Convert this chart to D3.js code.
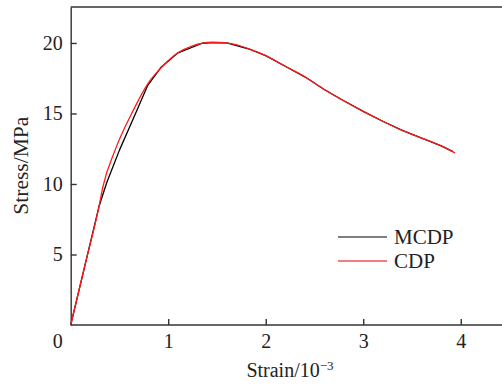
<!DOCTYPE html>
<html>
<head>
<meta charset="utf-8">
<script src="https://cdn.jsdelivr.net/npm/d3@7"></script>
<style>
  body { margin: 0; background: #fff; }
  svg { display: block; font-family: "Liberation Serif", "DejaVu Serif", serif; }
  .axis path, .axis line { stroke: #333; stroke-width: 1.4; }
  .axis text { font-size: 20px; fill: #222; font-family: "Liberation Serif", serif; }
</style>
</head>
<body>
<svg width="502" height="385"></svg>
<script>
"use strict";

//data

const mcdpStrain = [0, 0.29, 0.37, 0.5, 0.665, 0.79, 0.93, 1.1, 1.35, 1.45, 1.6, 1.84, 2.0, 2.2, 2.4, 2.6, 2.8, 3.0, 3.2, 3.4, 3.6, 3.8, 3.92];
const mcdpStress = [0, 8.4, 10.1, 12.4, 15, 17.0, 18.3, 19.3, 19.98, 20.02, 20.0, 19.55, 19.1, 18.35, 17.6, 16.7, 15.9, 15.15, 14.45, 13.8, 13.25, 12.7, 12.3];

const cdpStrain = [0, 0.15, 0.29, 0.33, 0.455, 0.64, 0.79, 0.95, 1.1, 1.25, 1.45, 1.6, 1.84, 2.0, 2.2, 2.4, 2.6, 2.8, 3.0, 3.2, 3.4, 3.6, 3.8, 3.94];
const cdpStress = [0, 4.35, 8.4, 9.8, 12.4, 15.2, 17.1, 18.4, 19.3, 19.8, 20.05, 20.0, 19.55, 19.1, 18.35, 17.6, 16.7, 15.9, 15.15, 14.45, 13.8, 13.25, 12.7, 12.2];

const xTicks = [1, 2, 3, 4];
const yTicks = [5, 10, 15, 20];

const seriesNames = ["MCDP", "CDP"];
const seriesColors = ["#000", "#ff1a1a"];

//scales

const x = d3.scaleLinear().domain([0, 4.5]).range([70.7, 509.5]);
const y = d3.scaleLinear().domain([0, 22.55]).range([325, 7]);

const svg = d3.select("svg");

//frame

svg.append("line")
  .attr("x1", x(0)).attr("x2", 502)
  .attr("y1", y(22.55)).attr("y2", y(22.55))
  .attr("stroke", "#333").attr("stroke-width", 1.4);

//axes

svg.append("g")
  .attr("class", "axis")
  .attr("transform", `translate(0, ${y(0)})`)
  .call(d3.axisBottom(x).tickValues(xTicks).tickFormat(d3.format("d")).tickSize(-6).tickPadding(9).tickSizeOuter(0))
  .call((g) => g.select(".domain").attr("d", `M${x(0)},0H502`));

svg.append("g")
  .attr("class", "axis")
  .attr("transform", `translate(${x(0)}, 0)`)
  .call(d3.axisLeft(y).tickValues(yTicks).tickFormat(d3.format("d")).tickSize(-6).tickPadding(8).tickSizeOuter(0));

//origin label

svg.append("text")
  .attr("x", x(0) - 8)
  .attr("y", y(0) + 23)
  .attr("text-anchor", "end")
  .attr("font-size", 20)
  .attr("fill", "#222")
  .text("0");

//axis titles

svg.append("text")
  .attr("transform", `translate(28, ${y(11.3)}) rotate(-90)`)
  .attr("text-anchor", "middle")
  .attr("font-size", 21.5)
  .attr("fill", "#222")
  .text("Stress/MPa");

const xTitle = svg.append("text")
  .attr("x", 290)
  .attr("y", 377)
  .attr("text-anchor", "middle")
  .attr("font-size", 20)
  .attr("fill", "#222");

xTitle.append("tspan").text("Strain/10");
xTitle.append("tspan").attr("dy", -7).attr("font-size", 13).text("\u22123");

//lines

const series = [
  d3.zip(mcdpStrain, mcdpStress),
  d3.zip(cdpStrain, cdpStress)
];

const curves = [d3.curveLinear, d3.curveMonotoneX];

series.forEach((pts, i) => {

  const lineFn = d3.line()
    .curve(curves[i])
    .x((d) => x(d[0]))
    .y((d) => y(d[1]));

  svg.append("path")
    .datum(pts)
    .attr("d", lineFn)
    .attr("fill", "none")
    .attr("stroke", seriesColors[i])
    .attr("stroke-width", 1.3)
    .attr("stroke-linejoin", "round");

});

//legend

seriesNames.forEach((name, i) => {

  const ly = 237 + i * 24;

  svg.append("line")
    .attr("x1", 338).attr("x2", 387)
    .attr("y1", ly).attr("y2", ly)
    .attr("stroke", i ? "#ee5555" : "#000")
    .attr("stroke-width", i ? 1.6 : 1.2);

  svg.append("text")
    .attr("x", 394)
    .attr("y", ly)
    .attr("dy", "0.35em")
    .attr("font-size", 21)
    .attr("fill", "#222")
    .text(name);

});
</script>
</body>
</html>
